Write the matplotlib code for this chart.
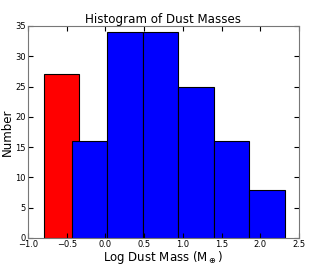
import matplotlib
matplotlib.use('Agg')
import matplotlib.pyplot as plt

# bin edges and counts
red_edges = [-0.80, -0.34]
red_counts = [27]
blue_edges = [-0.435, 0.023, 0.48, 0.94, 1.40, 1.86, 2.32]
blue_counts = [16, 34, 34, 25, 16, 8]

xticks = [-1.0, -0.5, 0.0, 0.5, 1.0, 1.5, 2.0, 2.5]
yticks = [0, 5, 10, 15, 20, 25, 30, 35]

fig = plt.figure(figsize=(3.34, 2.65), dpi=100)
ax = fig.add_axes([0.084, 0.102, 0.811, 0.80])

def draw_hist(edges, counts, color):
    widths = [edges[i + 1] - edges[i] for i in range(len(counts))]
    ax.bar(edges[:-1], counts, width=widths, align='edge', color=color,
           edgecolor='black', linewidth=0.8)

draw_hist(red_edges, red_counts, 'red')
draw_hist(blue_edges, blue_counts, 'blue')

ax.set_xlim(-1.0, 2.5)
ax.set_ylim(0, 35)
ax.set_xticks(xticks)
ax.set_yticks(yticks)
ax.tick_params(direction='in', top=True, right=True, labelsize=6, length=3.5, pad=1.5)
for s in ax.spines.values():
    s.set_color('#777777')

ax.set_title("Histogram of Dust Masses", fontsize=8.6, pad=2)
ax.set_xlabel(r"Log Dust Mass (M$_\oplus$)", fontsize=8.5, labelpad=0)
ax.set_ylabel("Number", fontsize=8.5, labelpad=1)

plt.savefig("out.png", dpi=100)
